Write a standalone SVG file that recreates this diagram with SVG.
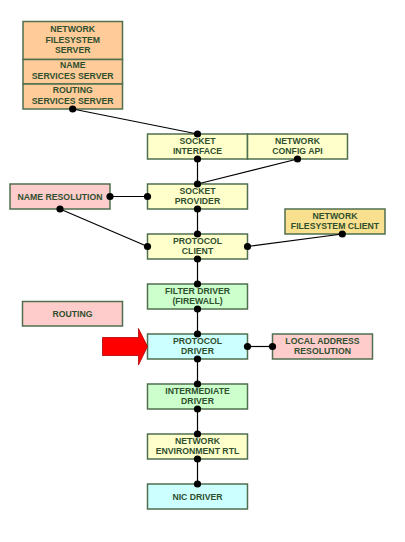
<svg xmlns="http://www.w3.org/2000/svg" width="405" height="542" viewBox="0 0 405 542">
<defs>
<style>
.b{stroke:#4f6f4f;stroke-width:1.5}
.t{font-family:"Liberation Sans",Arial,sans-serif;font-weight:bold;font-size:8.7px;fill:#2f4f2f;text-anchor:middle}
.orange{fill:#ffcc99}.yel{fill:#ffffcc}.grn{fill:#ccffcc}.cyan{fill:#ccffff}.pink{fill:#ffcccc}.gold{fill:#f8e08e}
.c line{stroke:#000;stroke-width:1.2}
.c circle{fill:#000}
</style>
</defs>
<rect width="405" height="542" fill="#fff"/>
<g id="servers">
<rect class="b orange" x="23" y="21.5" width="99.5" height="38"/>
<rect class="b orange" x="23" y="59.5" width="99.5" height="24.5"/>
<rect class="b orange" x="23" y="84" width="99.5" height="25"/>
<text class="t" x="72.7" y="32.2">NETWORK</text>
<text class="t" x="72.7" y="42.8">FILESYSTEM</text>
<text class="t" x="72.7" y="53.3">SERVER</text>
<text class="t" x="72.7" y="68.3">NAME</text>
<text class="t" x="72.7" y="79">SERVICES SERVER</text>
<text class="t" x="72.7" y="93.3">ROUTING</text>
<text class="t" x="72.7" y="104">SERVICES SERVER</text>
</g>
<g id="socket-interface">
<rect class="b yel" x="147.5" y="134" width="100" height="25"/>
<text class="t" x="197.5" y="143.9">SOCKET</text>
<text class="t" x="197.5" y="154.3">INTERFACE</text>
</g>
<g id="network-config-api">
<rect class="b yel" x="247.5" y="134" width="100" height="25"/>
<text class="t" x="297.5" y="143.9">NETWORK</text>
<text class="t" x="297.5" y="154.3">CONFIG API</text>
</g>
<g id="name-resolution">
<rect class="b pink" x="10" y="184" width="100" height="25"/>
<text class="t" x="60" y="199.5">NAME RESOLUTION</text>
</g>
<g id="socket-provider">
<rect class="b yel" x="147.5" y="184" width="100" height="25"/>
<text class="t" x="197.5" y="193.9">SOCKET</text>
<text class="t" x="197.5" y="204.3">PROVIDER</text>
</g>
<g id="network-filesystem-client">
<rect class="b gold" x="285" y="209" width="100" height="25"/>
<text class="t" x="335" y="218.9">NETWORK</text>
<text class="t" x="335" y="229.3">FILESYSTEM CLIENT</text>
</g>
<g id="protocol-client">
<rect class="b yel" x="147.5" y="234" width="100" height="25"/>
<text class="t" x="197.5" y="243.9">PROTOCOL</text>
<text class="t" x="197.5" y="254.3">CLIENT</text>
</g>
<g id="filter-driver">
<rect class="b grn" x="147.5" y="284" width="100" height="25"/>
<text class="t" x="197.5" y="293.9">FILTER DRIVER</text>
<text class="t" x="197.5" y="304.3">(FIREWALL)</text>
</g>
<g id="routing">
<rect class="b pink" x="22.5" y="301.5" width="100" height="24.5"/>
<text class="t" x="72.5" y="316.8">ROUTING</text>
</g>
<g id="protocol-driver">
<rect class="b cyan" x="147.5" y="334" width="100" height="25"/>
<text class="t" x="197.5" y="343.9">PROTOCOL</text>
<text class="t" x="197.5" y="354.3">DRIVER</text>
</g>
<g id="local-address-resolution">
<rect class="b pink" x="272.5" y="334" width="100" height="25"/>
<text class="t" x="322.5" y="343.9">LOCAL ADDRESS</text>
<text class="t" x="322.5" y="354.3">RESOLUTION</text>
</g>
<g id="intermediate-driver">
<rect class="b grn" x="147.5" y="384" width="100" height="25"/>
<text class="t" x="197.5" y="393.9">INTERMEDIATE</text>
<text class="t" x="197.5" y="404.3">DRIVER</text>
</g>
<g id="network-environment-rtl">
<rect class="b yel" x="147.5" y="434" width="100" height="25"/>
<text class="t" x="197.5" y="443.9">NETWORK</text>
<text class="t" x="197.5" y="454.3">ENVIRONMENT RTL</text>
</g>
<g id="nic-driver">
<rect class="b cyan" x="147.5" y="484" width="100" height="25"/>
<text class="t" x="197.5" y="499.5">NIC DRIVER</text>
</g>
<g id="arrow">
<polygon points="102.5,337.5 138.5,337.5 138.5,328.5 147.5,346.5 138.5,365 138.5,355.5 102.5,355.5" fill="#ff0000" stroke="#b00000" stroke-width="0.8"/>
</g>
<g id="connectors" class="c">
<line x1="72.7" y1="109" x2="197.5" y2="134"/>
<line x1="197.5" y1="159" x2="197.5" y2="184"/>
<line x1="297.5" y1="159" x2="197.5" y2="184"/>
<line x1="110" y1="196.5" x2="147.5" y2="196.5"/>
<line x1="60" y1="209" x2="147.5" y2="246.5"/>
<line x1="197.5" y1="209" x2="197.5" y2="234"/>
<line x1="342.3" y1="234" x2="247.5" y2="246.5"/>
<line x1="197.5" y1="259" x2="197.5" y2="284"/>
<line x1="197.5" y1="309" x2="197.5" y2="334"/>
<line x1="247.5" y1="346.5" x2="272.5" y2="346.5"/>
<line x1="197.5" y1="359" x2="197.5" y2="384"/>
<line x1="197.5" y1="409" x2="197.5" y2="434"/>
<line x1="197.5" y1="459" x2="197.5" y2="484"/>
<circle cx="72.7" cy="109" r="3.6"/>
<circle cx="197.5" cy="134" r="3.6"/>
<circle cx="197.5" cy="159" r="3.6"/>
<circle cx="297.5" cy="159" r="3.6"/>
<circle cx="197.5" cy="184" r="3.6"/>
<circle cx="110" cy="196.5" r="3.6"/>
<circle cx="147.5" cy="196.5" r="3.6"/>
<circle cx="60" cy="209" r="3.6"/>
<circle cx="197.5" cy="209" r="3.6"/>
<circle cx="197.5" cy="234" r="3.6"/>
<circle cx="342.3" cy="234" r="3.6"/>
<circle cx="147.5" cy="246.5" r="3.6"/>
<circle cx="247.5" cy="246.5" r="3.6"/>
<circle cx="197.5" cy="259" r="3.6"/>
<circle cx="197.5" cy="284" r="3.6"/>
<circle cx="197.5" cy="309" r="3.6"/>
<circle cx="197.5" cy="334" r="3.6"/>
<circle cx="247.5" cy="346.5" r="3.6"/>
<circle cx="272.5" cy="346.5" r="3.6"/>
<circle cx="197.5" cy="359" r="3.6"/>
<circle cx="197.5" cy="384" r="3.6"/>
<circle cx="197.5" cy="409" r="3.6"/>
<circle cx="197.5" cy="434" r="3.6"/>
<circle cx="197.5" cy="459" r="3.6"/>
<circle cx="197.5" cy="484" r="3.6"/>
</g>
</svg>
